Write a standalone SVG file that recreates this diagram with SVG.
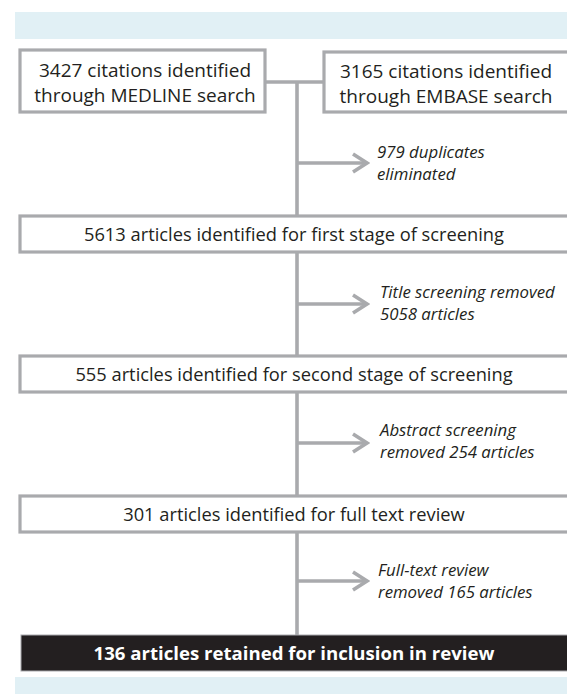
<svg xmlns="http://www.w3.org/2000/svg" width="567" height="694" viewBox="0 0 567 694">
<defs>
<style>
.band{fill:#e1f0f5}
.box{fill:#fff;stroke:#a9aaad;stroke-width:3.2}
.dark{fill:#231f20;stroke:#a9aaad;stroke-width:1}
.ln{stroke:#a9aaad;stroke-width:3.6;fill:none}
.t{font-family:"Open Sans","Liberation Sans",sans-serif;fill:#231f20;text-anchor:middle}
.top{font-size:19px}
.wide{font-size:18.3px}
.side{font-family:"Open Sans","Liberation Sans",sans-serif;font-style:italic;font-size:16.8px;fill:#231f20}
.fin{font-family:"Open Sans","Liberation Sans",sans-serif;font-weight:bold;font-size:18.6px;fill:#fff;text-anchor:middle}
</style>
<marker id="ah" markerWidth="20" markerHeight="24" viewBox="0 0 20 24" refX="17" refY="12" orient="auto" markerUnits="userSpaceOnUse">
<path d="M3,3 L17,12 L3,21" fill="none" stroke="#a9aaad" stroke-width="3.6"/>
</marker>
</defs>
<rect class="band" x="15" y="12" width="552" height="27"/>
<rect class="band" x="15" y="677" width="552" height="17"/>
<g id="connectors">
<path class="ln" d="M265,82 H324"/>
<path class="ln" d="M297,82 V636"/>
<path class="ln" d="M297,163 H367" marker-end="url(#ah)"/>
<path class="ln" d="M297,304 H367" marker-end="url(#ah)"/>
<path class="ln" d="M297,443 H367" marker-end="url(#ah)"/>
<path class="ln" d="M297,581 H367" marker-end="url(#ah)"/>
</g>
<g id="medline">
<rect class="box" x="20" y="50" width="245" height="62"/>
<text class="t top" x="145" y="77">3427 citations identified</text>
<text class="t top" x="145" y="102">through MEDLINE search</text>
</g>
<g id="embase">
<rect class="box" x="324" y="52" width="260" height="60"/>
<text class="t top" x="446" y="78">3165 citations identified</text>
<text class="t top" x="446" y="103">through EMBASE search</text>
</g>
<g id="dup">
<text class="side" x="377" y="158">979 duplicates</text>
<text class="side" x="377" y="180">eliminated</text>
</g>
<g id="stage1">
<rect class="box" x="20" y="216" width="560" height="36"/>
<text class="t wide" x="294" y="240.5">5613 articles identified for first stage of screening</text>
</g>
<g id="title">
<text class="side" x="380" y="298">Title screening removed</text>
<text class="side" x="380" y="320">5058 articles</text>
</g>
<g id="stage2">
<rect class="box" x="20" y="356" width="560" height="36"/>
<text class="t wide" x="294" y="380.5">555 articles identified for second stage of screening</text>
</g>
<g id="abstract">
<text class="side" x="380" y="436">Abstract screening</text>
<text class="side" x="380" y="458">removed 254 articles</text>
</g>
<g id="fulltext">
<rect class="box" x="20" y="496" width="560" height="36"/>
<text class="t wide" x="294" y="520.5">301 articles identified for full text review</text>
</g>
<g id="ftreview">
<text class="side" x="378" y="576">Full-text review</text>
<text class="side" x="378" y="598">removed 165 articles</text>
</g>
<g id="final">
<rect class="dark" x="21" y="635" width="560" height="36"/>
<text class="fin" x="294" y="659.5">136 articles retained for inclusion in review</text>
</g>
</svg>
